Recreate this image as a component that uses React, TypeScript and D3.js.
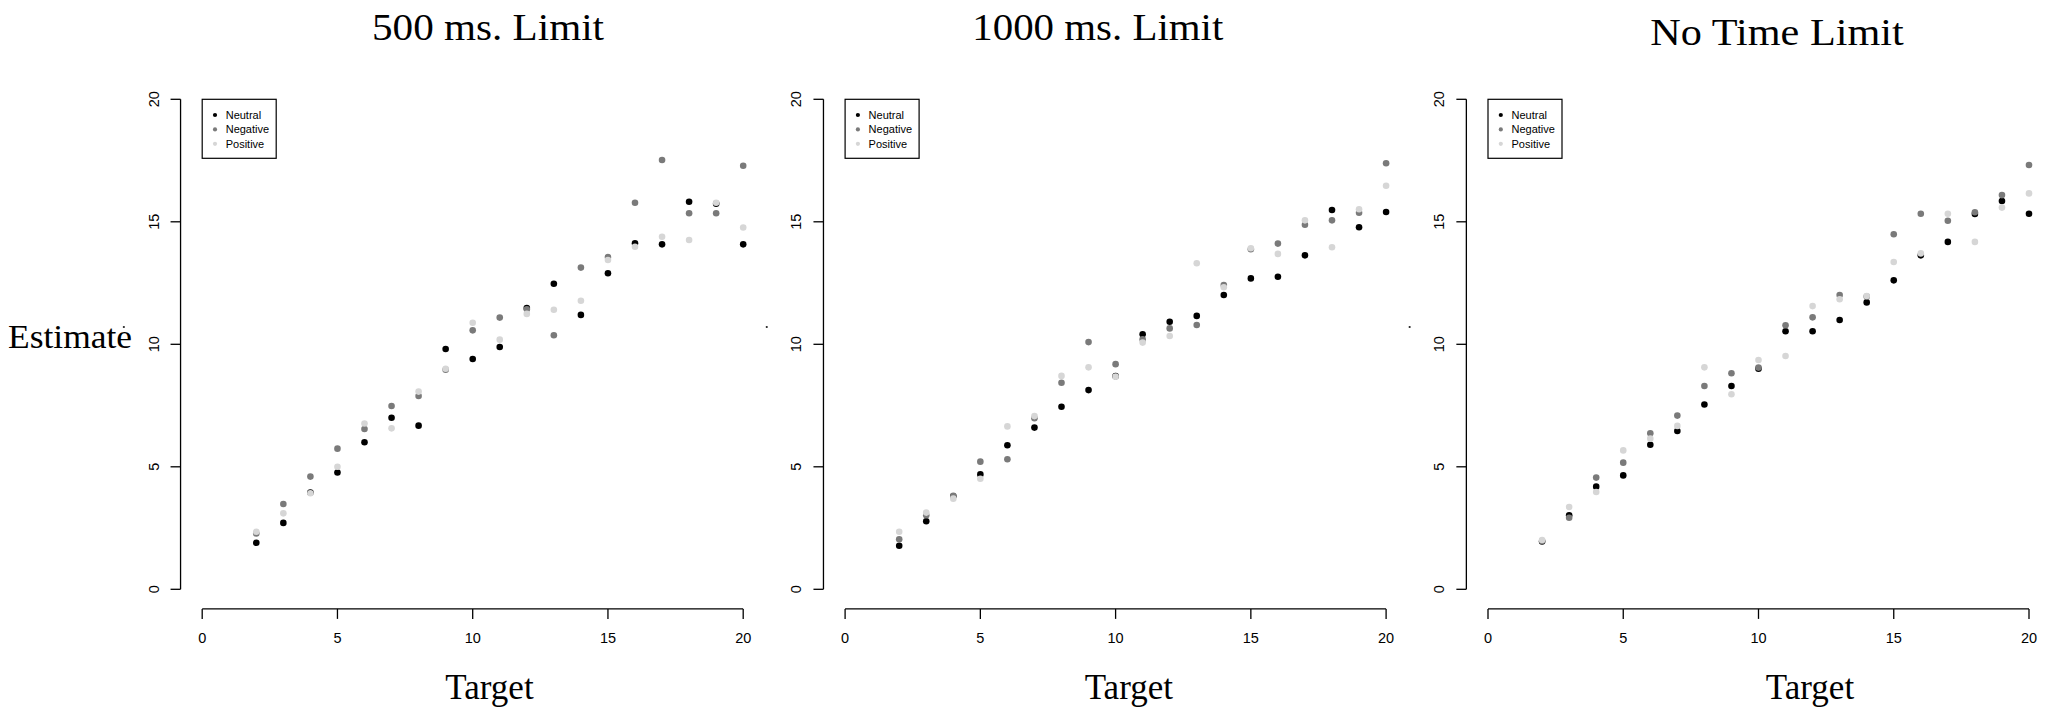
import React from "react";
import * as d3 from "d3";

const targets = [2, 3, 4, 5, 6, 7, 8, 9, 10, 11, 12, 13, 14, 15, 16, 17, 18, 19, 20];

const p500Neutral = [1.9, 2.71, 3.95, 4.77, 6.0, 7.0, 6.68, 9.81, 9.4, 9.89, 11.48, 12.47, 11.2, 12.9, 14.12, 14.08, 15.82, 15.74, 14.08];
const p500Negative = [2.28, 3.48, 4.6, 5.74, 6.54, 7.48, 7.89, 8.96, 10.57, 11.09, 11.43, 10.37, 13.13, 13.56, 15.78, 17.52, 15.35, 15.35, 17.29];
const p500Positive = [2.35, 3.1, 3.92, 5.0, 6.77, 6.57, 8.07, 9.0, 10.88, 10.19, 11.24, 11.41, 11.78, 13.44, 13.98, 14.39, 14.26, 15.78, 14.77];

const p1000Neutral = [1.78, 2.78, 3.8, 4.69, 5.88, 6.6, 7.45, 8.13, 8.7, 10.41, 10.92, 11.16, 12.01, 12.69, 12.76, 13.63, 15.48, 14.78, 15.4];
const p1000Negative = [2.04, 3.02, 3.82, 5.21, 5.31, 6.98, 8.43, 10.09, 9.19, 10.2, 10.65, 10.79, 12.42, 13.88, 14.11, 14.88, 15.06, 15.37, 17.39];
const p1000Positive = [2.35, 3.13, 3.7, 4.51, 6.65, 7.07, 8.71, 9.06, 8.68, 10.07, 10.34, 13.31, 12.33, 13.92, 13.69, 15.06, 13.96, 15.51, 16.47];

const pNoNeutral = [1.95, 3.02, 4.19, 4.65, 5.9, 6.46, 7.54, 8.3, 9.0, 10.53, 10.53, 10.99, 11.71, 12.61, 13.63, 14.18, 15.32, 15.85, 15.33];
const pNoNegative = [1.97, 2.92, 4.56, 5.17, 6.37, 7.09, 8.3, 8.82, 9.05, 10.78, 11.1, 12.01, 11.95, 14.49, 15.33, 15.04, 15.39, 16.09, 17.32];
const pNoPositive = [2.01, 3.36, 3.97, 5.67, 6.15, 6.67, 9.06, 7.96, 9.36, 9.52, 11.56, 11.84, 11.97, 13.36, 13.71, 15.33, 14.18, 15.58, 16.16];

const seriesNames = ["Neutral", "Negative", "Positive"];
const seriesColors = ["#000000", "#7a7a7a", "#d6d6d6"];
const panelTitles = ["500 ms. Limit", "1000 ms. Limit", "No Time Limit"];
const axisTicks = [0, 5, 10, 15, 20];

const panels = [
  { title: panelTitles[0], series: [p500Neutral, p500Negative, p500Positive], x0: 202.2, titleX: 488, titleY: 40, titleW: 232, targetX: 489.5 },
  { title: panelTitles[1], series: [p1000Neutral, p1000Negative, p1000Positive], x0: 845.1, titleX: 1097.8, titleY: 40, titleW: 251, targetX: 1128.8 },
  { title: panelTitles[2], series: [pNoNeutral, pNoNegative, pNoPositive], x0: 1488, titleX: 1777, titleY: 45, titleW: 253.5, targetX: 1810 },
];

const PLOT_W = 541;
const Y0 = 589.3;
const Y20 = 99.3;

function Panel({ p }: { p: (typeof panels)[number] }) {
  const x = d3.scaleLinear().domain([0, 20]).range([p.x0, p.x0 + PLOT_W]);
  const y = d3.scaleLinear().domain([0, 20]).range([Y0, Y20]);
  const xAxisY = y(-0.8);
  const yAxisX = x(-0.8);
  const sans = "'Liberation Sans', Arial, Helvetica, sans-serif";
  const serif = "'Liberation Serif', 'Times New Roman', serif";
  const legX = x(0);
  const legY = y(20);
  return (
    <g>
      <text x={p.titleX} y={p.titleY} textAnchor="middle" fontFamily={serif} fontSize={38} textLength={p.titleW} lengthAdjust="spacingAndGlyphs" fill="#000">
        {p.title}
      </text>
      {/* x axis */}
      <line x1={x(0)} x2={x(20)} y1={xAxisY} y2={xAxisY} stroke="#000" strokeWidth={1.3} />
      {axisTicks.map((t) => (
        <g key={"xt" + t}>
          <line x1={x(t)} x2={x(t)} y1={xAxisY} y2={xAxisY + 10} stroke="#000" strokeWidth={1.3} />
          <text x={x(t)} y={643} textAnchor="middle" fontFamily={sans} fontSize={14.5} fill="#000">
            {t}
          </text>
        </g>
      ))}
      {/* y axis */}
      <line x1={yAxisX} x2={yAxisX} y1={y(0)} y2={y(20)} stroke="#000" strokeWidth={1.3} />
      {axisTicks.map((t) => (
        <g key={"yt" + t}>
          <line x1={yAxisX} x2={yAxisX - 10} y1={y(t)} y2={y(t)} stroke="#000" strokeWidth={1.3} />
          <text transform={`translate(${yAxisX - 22},${y(t)}) rotate(-90)`} textAnchor="middle" fontFamily={sans} fontSize={14.5} fill="#000">
            {t}
          </text>
        </g>
      ))}
      <circle cx={yAxisX - 56.7} cy={327} r={1.1} fill="#222" />
      {/* points */}
      {p.series.map((vals, si) =>
        vals.map((v, i) => (
          <circle key={`p${si}-${i}`} cx={x(targets[i])} cy={y(v)} r={3.3} fill={seriesColors[si]} />
        ))
      )}
      {/* legend */}
      <rect x={legX} y={legY} width={74} height={59} fill="#fff" stroke="#000" strokeWidth={1.2} />
      {seriesNames.map((n, i) => (
        <g key={"lg" + n}>
          <circle cx={legX + 12.8} cy={legY + 15.7 + i * 14.4} r={2.1} fill={seriesColors[i]} />
          <text x={legX + 23.5} y={legY + 15.7 + i * 14.4 + 4} fontFamily={sans} fontSize={11} fill="#000">
            {n}
          </text>
        </g>
      ))}
      <text x={p.targetX} y={699.3} textAnchor="middle" fontFamily={serif} fontSize={35} fill="#000">
        Target
      </text>
    </g>
  );
}

export default function App() {
  return (
    <svg width={2055} height={720} style={{ position: "absolute", left: 0, top: 0, background: "#fff" }}>
      <rect x={0} y={0} width={2055} height={720} fill="#fff" />
      <text x={8} y={348.3} fontFamily="'Liberation Serif', 'Times New Roman', serif" fontSize={33} textLength={124} lengthAdjust="spacingAndGlyphs" fill="#000">
        Estimate
      </text>
      {panels.map((p) => (
        <Panel key={p.title} p={p} />
      ))}
    </svg>
  );
}
